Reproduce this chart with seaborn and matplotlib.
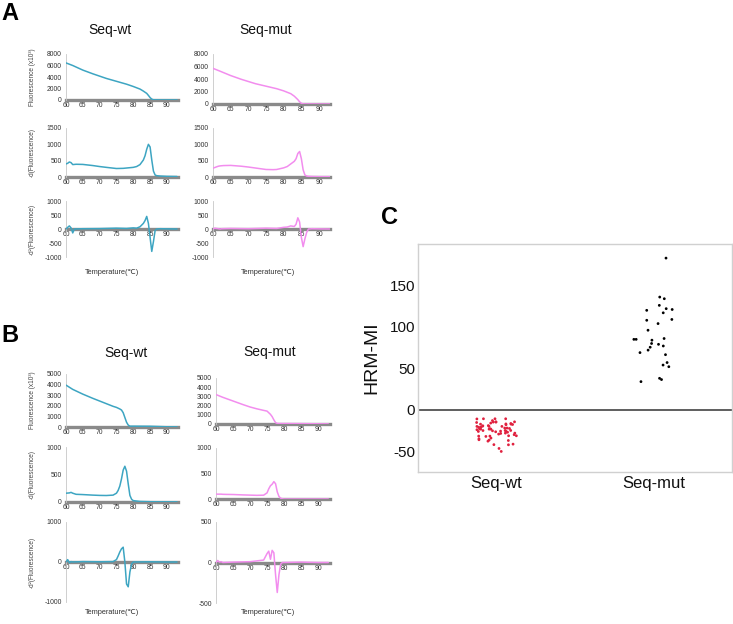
import numpy as np
import pandas as pd
import matplotlib
matplotlib.use("Agg")
import matplotlib.pyplot as plt
import seaborn as sns

# ---------------- data ----------------
temp_ticks = [60, 65, 70, 75, 80, 85, 90]

# Panel A (melt curves)
tA_f = [60, 62, 65, 68, 70, 72, 75, 78, 80, 82, 83, 84, 84.5, 85, 85.5, 86, 88, 90, 93]
A_wt_f = [6450, 6000, 5200, 4550, 4150, 3750, 3250, 2750, 2350, 1900, 1550, 1150, 800, 420, 150, 30, 10, 5, 0]
A_mut_f = [5700, 5250, 4550, 3950, 3600, 3250, 2850, 2450, 2100, 1650, 1250, 700, 350, 100, 30, 10, 5, 0, 0]

tA_d = [60, 60.5, 61, 61.5, 62, 63, 65, 68, 70, 72, 75, 77, 78, 80, 81, 82, 83, 83.5, 84,
        84.5, 85, 85.5, 86, 86.5, 87, 88, 90, 93]
A_wt_d = [400, 420, 460, 440, 380, 390, 385, 350, 320, 295, 260, 265, 275, 295, 320, 380, 520,
          650, 850, 1000, 920, 520, 180, 60, 40, 30, 20, 15]
A_mut_d = [270, 290, 310, 330, 340, 350, 355, 330, 305, 275, 230, 225, 230, 280, 320, 400, 480,
           560, 720, 780, 560, 220, 60, 30, 20, 15, 10, 10]

tA_d2 = [60, 60.5, 61, 61.5, 62, 62.5, 65, 70, 75, 78, 80, 81, 82, 83, 83.5, 84, 84.5, 85,
         85.5, 86, 86.5, 87, 88, 90, 93]
A_wt_d2 = [0, 60, 110, 40, -140, 0, 10, 15, 30, 20, 40, 30, 80, 200, 300, 450, 200, -300,
           -800, -450, -50, 0, 10, 5, 0]
A_mut_d2 = [0, 30, 20, 10, 0, 10, 20, 10, 30, 20, 60, 70, 110, 90, 170, 400, 250, -300,
            -630, -350, -120, 0, 10, 5, 0]

# Panel B (melt curves)
tB_f = [60, 62, 65, 68, 70, 72, 74, 75, 76, 76.5, 77, 77.5, 78, 78.5, 79, 80, 85, 90, 93]
B_wt_f = [3950, 3550, 3100, 2700, 2450, 2200, 1950, 1850, 1700, 1600, 1350, 900, 450, 180, 80, 80, 70, 20, 10]
B_mut_f = [3200, 2900, 2500, 2100, 1850, 1650, 1480, 1400, 1050, 800, 450, 150, 60, 50, 50, 50, 40, 20, 10]

tB_d = [60, 61, 61.5, 62, 63, 65, 68, 70, 72, 74, 75, 75.5, 76, 76.5, 77, 77.5, 78, 78.5, 79,
        79.5, 80, 82, 85, 90, 93]
B_wt_d = [160, 165, 175, 160, 140, 135, 125, 120, 118, 125, 160, 210, 290, 420, 580, 650, 560,
          330, 120, 50, 25, 10, 5, 3, 2]
B_mut_d = [95, 95, 95, 92, 90, 88, 80, 76, 72, 75, 120, 200, 260, 290, 340, 300, 140, 50, 15,
           5, 0, 0, 0, 0, 0]

tB_d2 = [60, 60.5, 61, 61.5, 62, 65, 70, 74, 75, 75.5, 76, 76.5, 77, 77.5, 78, 78.5, 79, 79.5,
         80, 85, 90, 93]
B_wt_d2 = [0, 60, -20, 10, 0, 10, 5, 10, 60, 150, 250, 330, 370, 0, -550, -620, -250, -50, 0, 5, 0, 0]
B_mut_d2 = [0, 25, 5, 10, 0, 5, 10, 30, 110, 140, 40, 150, 120, -150, -370, -150, -20, 0, 0, 5, 0, 0]

# Panel C (HRM-MI)
groups = ["Seq-wt", "Seq-mut"]
mi_wt = [-10.8, -11, -10.8, -10.8, -14.8, -14.5, -15.3, -14.8, -14.5, -16.5, -17, -17.3, -17.7,
         -17.3, -19.3, -20, -20, -20.9, -20, -19.7, -22, -22.5, -22.9, -23.3, -23.3, -22.9, -24.9,
         -25.7, -26.1, -26.5, -25.3, -24.9, -28.1, -28.5, -29.3, -28.1, -31.3, -31.7, -32.1, -31.3,
         -31.7, -34.1, -34.9, -36.5, -36.1, -37.8, -37, -41.4, -42.2, -46.6, -50.2, -23.3, -25,
         -42, -18, -21, -24, -27, -19, -22, -26, -30, -13, -16]
mi_mut = [183, 134, 136, 122, 126, 121, 120, 117, 109, 108, 104, 96, 84, 85, 85, 86, 80, 79, 77,
          75.5, 72, 69, 66.5, 57, 54, 52, 38, 36.5, 34]

# ---------------- style ----------------
sns.set_style("white")
plt.rcParams['font.family'] = ['Liberation Sans', 'DejaVu Sans']
plt.rcParams['axes.unicode_minus'] = False

TEAL = "#3DA5C2"
PINK = "#F28DEE"
RED = "#E0213F"
W, H = 733, 624
fig = plt.figure(figsize=(W / 100, H / 100), dpi=100)


def box(x0, y0, x1, y1):
    return fig.add_axes([x0 / W, 1 - y1 / H, (x1 - x0) / W, (y1 - y0) / H])


def small(px, xmax, ylim, yticks, t, v, color, ylabel=None):
    ax = box(*px)
    sns.lineplot(x=t, y=v, ax=ax, color=color, linewidth=1.1, zorder=3)
    ax.set_xlim(60, xmax)
    ax.set_ylim(*ylim)
    ax.set_xticks(temp_ticks)
    ax.set_yticks(yticks)
    for s in ['top', 'right']:
        ax.spines[s].set_visible(False)
    ax.spines['left'].set_color('#c8c8c8')
    ax.spines['left'].set_linewidth(0.6)
    ax.spines['bottom'].set_position(('data', 0))
    ax.spines['bottom'].set_color('#8a8a8a')
    ax.spines['bottom'].set_linewidth(2.4)
    ax.spines['bottom'].set_zorder(2)
    ax.tick_params(axis='x', length=0, pad=1.5, labelsize=4.9, labelcolor='#333333')
    ax.tick_params(axis='y', length=2, width=0.5, color='#c8c8c8', pad=1,
                   labelsize=4.9, labelcolor='#333333')
    ax.set_xlabel('')
    ax.set_ylabel(ylabel or '', fontsize=4.7, color='#444444')
    if ylabel:
        ax.yaxis.set_label_coords(-0.27, 0.5)
    ax.patch.set_alpha(0)
    return ax


# Panel A
small((66, 54, 178, 100), 93.3, (0, 8000), [0, 2000, 4000, 6000, 8000], tA_f, A_wt_f, TEAL,
      "Fluorescence (x10³)")
small((66, 128, 178, 177), 93.3, (0, 1500), [0, 500, 1000, 1500], tA_d, A_wt_d, TEAL,
      "-d(Fluorescence)")
small((66, 201, 178, 257), 93.3, (-1000, 1000), [-1000, -500, 0, 500, 1000], tA_d2, A_wt_d2, TEAL,
      "-d²(Fluorescence)")
small((213, 54, 330, 104), 93.1, (0, 8000), [0, 2000, 4000, 6000, 8000], tA_f, A_mut_f, PINK)
small((213, 128, 330, 177), 93.1, (0, 1500), [0, 500, 1000, 1500], tA_d, A_mut_d, PINK)
small((213, 201, 330, 257), 93.1, (-1000, 1000), [-1000, -500, 0, 500, 1000], tA_d2, A_mut_d2, PINK)

# Panel B
small((66, 374, 178, 427), 93.3, (0, 5000), [0, 1000, 2000, 3000, 4000, 5000], tB_f, B_wt_f, TEAL,
      "Fluorescence (x10³)")
small((66, 447, 178, 502), 93.3, (0, 1000), [0, 500, 1000], tB_d, B_wt_d, TEAL,
      "-d(Fluorescence)")
small((66, 522, 178, 602), 93.3, (-1000, 1000), [-1000, 0, 1000], tB_d2, B_wt_d2, TEAL,
      "-d²(Fluorescence)")
small((216, 378, 330, 424), 93.5, (0, 5000), [0, 1000, 2000, 3000, 4000, 5000], tB_f, B_mut_f, PINK)
small((216, 448, 330, 499), 93.5, (0, 1000), [0, 500, 1000], tB_d, B_mut_d, PINK)
small((216, 522, 330, 603), 93.5, (-500, 500), [-500, 0, 500], tB_d2, B_mut_d2, PINK)


def ftext(x, y, s, **kw):
    fig.text(x / W, 1 - y / H, s, **kw)


ftext(1, 13, "A", fontsize=17, fontweight='bold', ha='left', va='center', color='black')
ftext(1, 336, "B", fontsize=17, fontweight='bold', ha='left', va='center', color='black')
ftext(381, 217, "C", fontsize=17, fontweight='bold', ha='left', va='center', color='black')
for (x, y, s) in [(110, 30, "Seq-wt"), (266, 30, "Seq-mut"), (126, 353, "Seq-wt"), (270, 352, "Seq-mut")]:
    ftext(x, y, s, fontsize=10, ha='center', va='center', color='#111111')
for (x, y) in [(112, 272), (268, 272), (112, 613), (268, 613)]:
    ftext(x, y, "Temperature(℃)", fontsize=5.3, ha='center', va='center', color='#333333')

# Panel C
axc = box(418, 244, 732, 472)
df = pd.DataFrame({'group': ['Seq-wt'] * len(mi_wt) + ['Seq-mut'] * len(mi_mut),
                   'HRM-MI': mi_wt + mi_mut})
np.random.seed(11)
sns.stripplot(data=df, x='group', y='HRM-MI', hue='group', order=groups, hue_order=groups,
              palette=[RED, "#000000"], jitter=0.13, size=2.0, linewidth=0, legend=False, ax=axc)
axc.axhline(0, color='#333333', lw=1.1, zorder=1)
axc.set_xlim(-0.5, 1.5)
axc.set_ylim(-75, 200)
axc.set_yticks([-50, 0, 50, 100, 150])
for s in axc.spines.values():
    s.set_color('#d0d0d0')
    s.set_linewidth(1.0)
axc.tick_params(axis='y', length=0, pad=2, labelsize=11, labelcolor='#111111')
axc.tick_params(axis='x', length=0, pad=3, labelsize=12, labelcolor='#111111')
axc.set_xlabel('')
axc.set_ylabel('HRM-MI', fontsize=14, color='#111111')
axc.yaxis.set_label_coords(-0.121, 0.5)

fig.savefig("out.png", dpi=100)
